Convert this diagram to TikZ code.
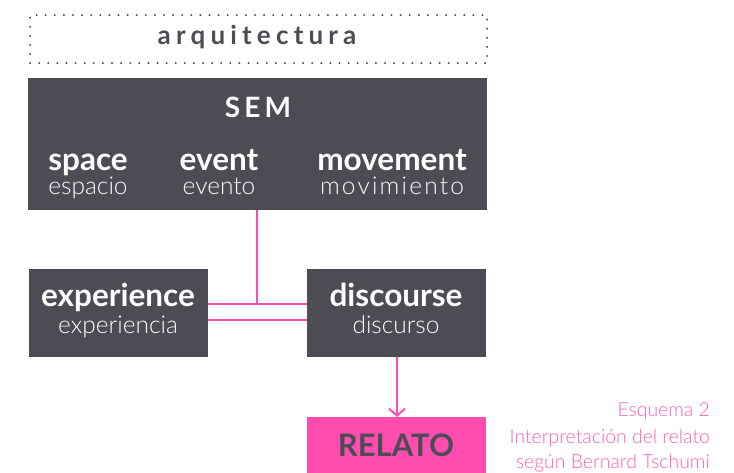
\documentclass[tikz,border=0pt]{standalone}
\usepackage{fontspec}
\setmainfont{Lato}
\newfontfamily\lightfont{Lato Light}
\usetikzlibrary{arrows.meta}
\definecolor{dark}{HTML}{4D4C55}
\definecolor{pink}{HTML}{FF4DAF}
\definecolor{cap}{HTML}{FF5FB5}
\tikzset{
  box/.style={fill=dark, draw=none, inner sep=0pt, anchor=north west},
  title/.style={text=white, inner sep=0pt, font=\bfseries\fontsize{31.5}{34}\selectfont, anchor=base},
  sub/.style={text=white, inner sep=0pt, font=\lightfont\fontsize{24.5}{28}\selectfont, anchor=base},
  capt/.style={text=cap, inner sep=0pt, font=\lightfont\fontsize{19.4}{22}\selectfont, anchor=base east},
  link/.style={draw=pink, line width=2pt},
}
\begin{document}
\begin{tikzpicture}[x=1pt,y=-1pt]
\useasboundingbox (0,0) rectangle (734,473);
% dotted box
\node[draw=dark, line width=2.2pt, dash pattern=on 0pt off 9.1pt, line cap=round,
  minimum width=457pt, minimum height=48pt, inner sep=0pt, anchor=north west] (arq) at (29,14) {};
\node[text=dark, font=\bfseries\fontsize{26}{30}\selectfont\addfontfeature{LetterSpace=20}, anchor=base] (arqt) at (257,45) {arquitectura};
% SEM
\node[box, minimum width=459pt, minimum height=132pt] (sem) at (28,78) {};
\node[title, font=\bfseries\fontsize{28}{32}\selectfont\addfontfeature{LetterSpace=15}] (semt) at (258,118) {SEM};
\node[title] (space) at (88,171) {space};
\node[sub] (espacio) at (88,195) {espacio};
\node[title] (event) at (219,171) {event};
\node[sub] (evento) at (219,195) {evento};
\node[title] (movement) at (392,171) {movement};
\node[sub, font=\lightfont\fontsize{24.5}{28}\selectfont\addfontfeature{LetterSpace=9}] (movimiento) at (392,195) {movimiento};
% experience / discourse
\node[box, minimum width=179pt, minimum height=88pt] (exp) at (29,269) {};
\node[title] (expt) at (118,306) {experience};
\node[sub] (exps) at (118,334) {experiencia};
\node[box, minimum width=179pt, minimum height=88pt] (dis) at (307,269) {};
\node[title] (dist) at (396,306) {discourse};
\node[sub] (diss) at (396,334) {discurso};
% RELATO
\node[fill=pink, inner sep=0pt, minimum width=179pt, minimum height=56pt, anchor=north west] (rel) at (307,417) {};
\node[text=dark, font=\bfseries\fontsize{31}{34}\selectfont, anchor=base] (relt) at (396,456) {RELATO};
% caption
\node[capt] (c1) at (710,416) {Esquema 2};
\node[capt] (c2) at (710,443) {Interpretación del relato};
\node[capt] (c3) at (710,468) {según Bernard Tschumi};
% connectors
\coordinate (j) at (257,304);
\draw[link] (sem.south -| j) -- (j);
\draw[link] (exp.east |- j) -- (dis.west |- j);
\draw[link] (exp.east |- 0,320) -- (dis.west |- 0,320);
\draw[link, -{Straight Barb[length=7pt,width=16pt,line width=2pt]}] (dis.south -| 397,0) -- (rel.north -| 397,0);
\end{tikzpicture}
\end{document}
